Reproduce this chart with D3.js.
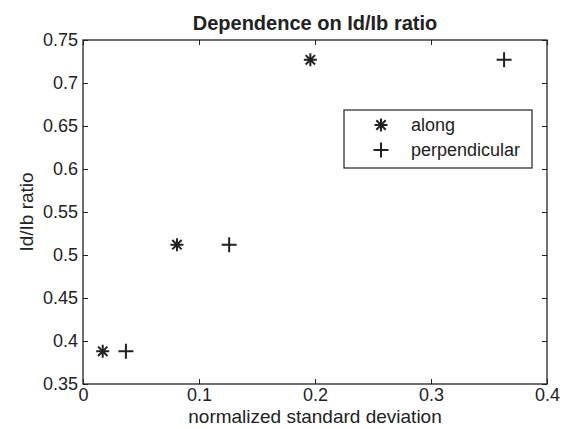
<!DOCTYPE html>
<html>
<head>
<meta charset="utf-8">
<script src="https://cdn.jsdelivr.net/npm/d3@7"></script>
<style>
body { margin: 0; background: #fff; }
text { font-family: "Liberation Sans", Arial, sans-serif; fill: #222; }
</style>
</head>
<body>
<svg width="567" height="429"></svg>
<script>
// data
var alongX = [0.017, 0.081, 0.196];
var alongY = [0.388, 0.512, 0.727];
var perpX = [0.037, 0.126, 0.363];
var perpY = [0.388, 0.512, 0.727];
var xTicks = [0, 0.1, 0.2, 0.3, 0.4];
var yTicks = [0.35, 0.4, 0.45, 0.5, 0.55, 0.6, 0.65, 0.7, 0.75];
var legendLabels = ["along", "perpendicular"];

var box = { left: 83, right: 547, top: 40, bottom: 384 };
var ink = "#222";

var svg = d3.select("svg");
var x = d3.scaleLinear().domain([0, 0.4]).range([box.left, box.right]);
var y = d3.scaleLinear().domain([0.35, 0.75]).range([box.bottom, box.top]);

// axes, MATLAB style: inward ticks on every side
var fmt = function(d){ return String(+d.toFixed(2)); };
svg.append("g").attr("transform", "translate(0," + box.bottom + ")")
	.call(d3.axisBottom(x).tickValues(xTicks).tickSizeInner(-5).tickSizeOuter(0).tickPadding(4).tickFormat(fmt));
svg.append("g").attr("transform", "translate(0," + box.top + ")")
	.call(d3.axisTop(x).tickValues(xTicks).tickSizeInner(-5).tickSizeOuter(0).tickFormat(""));
svg.append("g").attr("transform", "translate(" + box.left + ",0)")
	.call(d3.axisLeft(y).tickValues(yTicks).tickSizeInner(-5).tickSizeOuter(0).tickPadding(5).tickFormat(fmt));
svg.append("g").attr("transform", "translate(" + box.right + ",0)")
	.call(d3.axisRight(y).tickValues(yTicks).tickSizeInner(-5).tickSizeOuter(0).tickFormat(""));

svg.selectAll(".domain").remove();
svg.selectAll(".tick line").attr("stroke", ink);
svg.selectAll(".tick text").attr("font-size", 18).attr("fill", ink)
	.attr("font-family", "Liberation Sans, Arial, sans-serif");

svg.append("rect")
	.attr("x", box.left).attr("y", box.top)
	.attr("width", box.right - box.left).attr("height", box.bottom - box.top)
	.attr("fill", "none").attr("stroke", ink).attr("stroke-width", 1.3);

// markers
function asterisk(g, cx, cy, r){
	var d = r * 0.72;
	g.append("path")
		.attr("d", "M" + (cx - r) + "," + cy + "H" + (cx + r) +
			"M" + cx + "," + (cy - r) + "V" + (cy + r) +
			"M" + (cx - d) + "," + (cy - d) + "L" + (cx + d) + "," + (cy + d) +
			"M" + (cx - d) + "," + (cy + d) + "L" + (cx + d) + "," + (cy - d))
		.attr("stroke", ink).attr("stroke-width", 2).attr("fill", "none");
}
function plus(g, cx, cy, r){
	g.append("path")
		.attr("d", "M" + (cx - r) + "," + cy + "H" + (cx + r) +
			"M" + cx + "," + (cy - r) + "V" + (cy + r))
		.attr("stroke", ink).attr("stroke-width", 2).attr("fill", "none");
}

var pts = svg.append("g");
alongX.forEach(function(v, i){ asterisk(pts, x(v), y(alongY[i]), 6.5); });
perpX.forEach(function(v, i){ plus(pts, x(v), y(perpY[i]), 7.5); });

// legend
var lg = svg.append("g");
lg.append("rect").attr("x", 344).attr("y", 110).attr("width", 188).attr("height", 58)
	.attr("fill", "#fff").attr("stroke", ink).attr("stroke-width", 1.2);
asterisk(lg, 381, 125, 6.5);
plus(lg, 381, 150, 7.5);
lg.selectAll("text.lab").data(legendLabels).enter().append("text")
	.attr("class", "lab")
	.attr("x", 411).attr("y", function(d, i){ return 131 + i * 25; })
	.attr("font-size", 18).text(function(d){ return d; });

// titles
svg.append("text").attr("x", (box.left + box.right) / 2).attr("y", 30)
	.attr("text-anchor", "middle").attr("font-size", 20).attr("font-weight", "bold")
	.text("Dependence on Id/Ib ratio");
svg.append("text").attr("x", (box.left + box.right) / 2).attr("y", 423)
	.attr("text-anchor", "middle").attr("font-size", 19)
	.text("normalized standard deviation");
svg.append("text").attr("transform", "translate(33," + (box.top + box.bottom) / 2 + ") rotate(-90)")
	.attr("text-anchor", "middle").attr("font-size", 19)
	.text("Id/Ib ratio");
</script>
</body>
</html>
